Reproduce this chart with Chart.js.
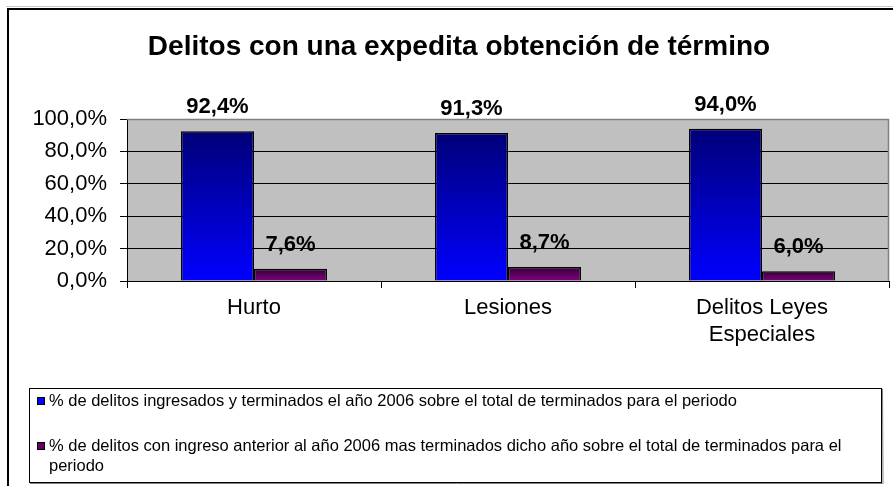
<!DOCTYPE html>
<html>
<head>
<meta charset="utf-8">
<script src="https://cdn.jsdelivr.net/npm/chart.js@4/dist/chart.umd.min.js"></script>
<style>
  html, body { margin: 0; padding: 0; background: #fff; }
  #wrap { width: 893px; height: 486px; position: relative; }
</style>
</head>
<body>
<div id="wrap"><canvas id="c" width="893" height="486"></canvas></div>
<script>
// ---- data ----
const chartTitle = 'Delitos con una expedita obtención de término';
const categories = ['Hurto', 'Lesiones', ['Delitos Leyes', 'Especiales']];
const seriesNames = [
  '% de delitos ingresados y terminados el año 2006 sobre el total de terminados para el periodo',
  '% de delitos con ingreso anterior al año 2006 mas terminados dicho año sobre el total de terminados para el periodo'
];
const ingresados2006 = [92.4, 91.3, 94.0];
const ingresoAnterior = [7.6, 8.7, 6.0];
const yMin = 0, yMax = 100, yStep = 20;

const FONT = '"Liberation Sans", Arial, sans-serif';
const fmt = v => v.toFixed(1).replace('.', ',') + '%';

function barGradient(topColor, bottomColor) {
  return (ctx) => {
    const chart = ctx.chart;
    if (!chart.chartArea || ctx.type !== 'data') return bottomColor;
    const ys = chart.scales.y;
    const y1 = ys.getPixelForValue(ctx.raw);
    const y0 = ys.getPixelForValue(0);
    if (!isFinite(y1) || !isFinite(y0) || y0 === y1) return bottomColor;
    const g = chart.ctx.createLinearGradient(0, y1, 0, y0);
    g.addColorStop(0, topColor);
    g.addColorStop(1, bottomColor);
    return g;
  };
}

const framePlugin = {
  id: 'frame',
  beforeDraw(chart) {
    const c = chart.ctx, a = chart.chartArea;
    c.save();
    c.fillStyle = '#fff';
    c.fillRect(0, 0, chart.width, chart.height);
    // outer frame
    c.strokeStyle = '#c8c8c8';
    c.lineWidth = 1;
    c.beginPath(); c.moveTo(6, 6.5); c.lineTo(chart.width, 6.5); c.stroke();
    c.strokeStyle = '#000';
    c.lineWidth = 2;
    c.beginPath();
    c.moveTo(8, chart.height); c.lineTo(8, 9); c.lineTo(chart.width, 9);
    c.stroke();
    // plot background
    c.fillStyle = '#C0C0C0';
    c.fillRect(a.left, a.top, a.right - a.left, a.bottom - a.top);
    // title
    c.fillStyle = '#000';
    c.font = 'bold 28px ' + FONT;
    c.textAlign = 'center';
    c.textBaseline = 'middle';
    c.fillText(chartTitle, 459, 47);
    c.restore();
  },
  beforeDatasetsDraw(chart) {
    const c = chart.ctx, a = chart.chartArea;
    c.save();
    c.strokeStyle = '#808080';
    c.lineWidth = 1.5;
    c.beginPath();
    c.moveTo(a.left, a.top + 0.5); c.lineTo(a.right - 0.5, a.top + 0.5); c.lineTo(a.right - 0.5, a.bottom);
    c.stroke();
    c.restore();
  },
  afterDatasetsDraw(chart) {
    const c = chart.ctx;
    c.save();
    c.fillStyle = '#000';
    c.font = 'bold 22px ' + FONT;
    c.textAlign = 'center';
    c.textBaseline = 'alphabetic';
    chart.data.datasets.forEach((ds, i) => {
      const meta = chart.getDatasetMeta(i);
      meta.data.forEach((el, j) => {
        c.fillText(fmt(ds.data[j]), el.x, el.y - 18);
      });
    });
    c.restore();
  },
  afterDraw(chart) {
    // legend box
    const c = chart.ctx;
    const box = { l: 29, t: 388, r: 882, b: 483 };
    c.save();
    c.fillStyle = '#fff';
    c.fillRect(box.l, box.t, box.r - box.l, box.b - box.t);
    c.strokeStyle = '#000';
    c.lineWidth = 1;
    c.strokeRect(box.l + 0.5, box.t + 0.5, box.r - box.l - 1, box.b - box.t - 1);
    c.strokeStyle = '#808080';
    c.beginPath(); c.moveTo(box.l + 1, box.b + 0.5); c.lineTo(box.r + 1, box.b + 0.5); c.lineTo(box.r + 0.5, box.t + 1); c.stroke();
    c.font = '16.5px ' + FONT;
    c.textBaseline = 'middle';
    c.textAlign = 'left';
    const textX = 49, maxW = box.r - textX - 2;
    const itemY = [401, 446];
    const lineH = 20;
    chart.data.datasets.forEach((ds, i) => {
      // marker
      c.fillStyle = ds.legendColor;
      c.fillRect(37, itemY[i] - 4, 8, 8);
      c.strokeStyle = '#000';
      c.lineWidth = 1;
      c.strokeRect(37.5, itemY[i] - 3.5, 7, 7);
      // wrap text
      const words = ds.label.split(' ');
      const lines = [];
      let cur = '';
      words.forEach(w => {
        const test = cur ? cur + ' ' + w : w;
        if (c.measureText(test).width > maxW && cur) { lines.push(cur); cur = w; }
        else cur = test;
      });
      if (cur) lines.push(cur);
      c.fillStyle = '#000';
      lines.forEach((ln, k) => c.fillText(ln, textX, itemY[i] + k * lineH));
    });
    c.restore();
  }
};

new Chart(document.getElementById('c'), {
  type: 'bar',
  data: {
    labels: categories,
    datasets: [
      {
        label: seriesNames[0],
        data: ingresados2006,
        backgroundColor: barGradient('#000078', '#0000FF'),
        legendColor: '#0000FF',
        borderColor: '#000',
        borderWidth: 1.5,
        categoryPercentage: 0.575,
        barPercentage: 1.0
      },
      {
        label: seriesNames[1],
        data: ingresoAnterior,
        backgroundColor: barGradient('#330033', '#800080'),
        legendColor: '#660066',
        borderColor: '#000',
        borderWidth: 1.5,
        categoryPercentage: 0.575,
        barPercentage: 1.0
      }
    ]
  },
  options: {
    responsive: false,
    animation: false,
    devicePixelRatio: 1,
    layout: { padding: { left: 0, top: 119, right: 4, bottom: 0 } },
    plugins: {
      legend: { display: false },
      title: { display: false },
      tooltip: { enabled: false }
    },
    scales: {
      x: {
        afterFit(s) { s.height = 205; },
        grid: {
          offset: true,
          drawOnChartArea: false,
          tickLength: 7,
          color: '#000',
          lineWidth: 1
        },
        border: { display: true, color: '#000', width: 1 },
        ticks: {
          color: '#000',
          font: { family: FONT, size: 22, lineHeight: 1.2 },
          padding: 7,
          maxRotation: 0,
          autoSkip: false
        }
      },
      y: {
        min: yMin,
        max: yMax,
        afterFit(s) { s.width = 127; },
        grid: {
          color: c => (c.tick && c.tick.value === yMax) ? '#808080' : '#000',
          tickColor: '#000',
          tickLength: 7,
          lineWidth: 1
        },
        border: { display: true, color: '#000', width: 1 },
        ticks: {
          stepSize: yStep,
          color: '#000',
          font: { family: FONT, size: 22 },
          padding: 13,
          callback: v => fmt(v)
        }
      }
    }
  },
  plugins: [framePlugin]
});
</script>
</body>
</html>
